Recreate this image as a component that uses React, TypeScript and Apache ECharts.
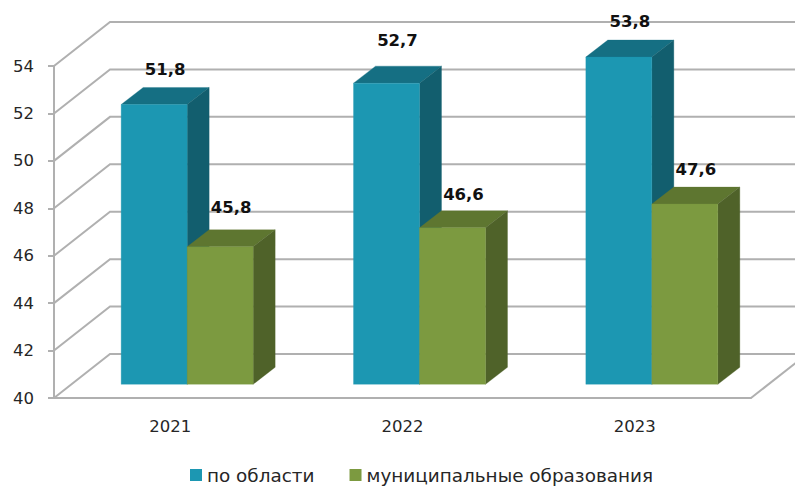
import React, { useEffect, useRef } from "react";
import * as echarts from "echarts";

const categories = ["2021", "2022", "2023"];
const regionName = "по области";
const municipalName = "муниципальные образования";
const regionValues = [51.8, 52.7, 53.8];
const municipalValues = [45.8, 46.6, 47.6];
const axisTicks = [40, 42, 44, 46, 48, 50, 52, 54];

const FONT = "'DejaVu Sans', sans-serif";
const GRAY = "#b0b0b0";
const TEXT = "#262626";
const WALL_DX = 56;
const WALL_DY = -44;
const BAR_W = 66;
const BAR_DX = 22;
const BAR_DY = -17;
const PLANE_DX = 17;
const PLANE_DY = -13.7;
const blue = { front: "#1c97b2", top: "#156f83", side: "#125e6e" };
const green = { front: "#7c9a40", top: "#5e7630", side: "#4f6229" };
const regionLabelLift = [35, 43, 36];
const municipalLabelLift = [39, 33, 35];

function barSeries(name: string, values: number[], colors: any, slot: number, lifts: number[]) {
  return {
    name,
    type: "custom",
    coordinateSystem: "cartesian2d",
    silent: true,
    z: 3 + slot,
    itemStyle: { color: colors.front },
    encode: { x: 0, y: 1 },
    data: values.map((v, i) => [i, v]),
    renderItem: (params: any, api: any) => {
      const i = api.value(0);
      const v = api.value(1);
      const top = api.coord([i, v]);
      const base = api.coord([i, 40]);
      const x0 = top[0] + PLANE_DX + (slot - 1) * BAR_W;
      const x1 = x0 + BAR_W;
      const yT = top[1] + PLANE_DY;
      const yB = base[1] + PLANE_DY;
      const poly = (points: number[][], fill: string) => ({
        type: "polygon",
        shape: { points },
        style: { fill, stroke: fill, lineWidth: 0.3 },
      });
      return {
        type: "group",
        children: [
          poly([[x0, yT], [x1, yT], [x1 + BAR_DX, yT + BAR_DY], [x0 + BAR_DX, yT + BAR_DY]], colors.top),
          poly([[x1, yT], [x1 + BAR_DX, yT + BAR_DY], [x1 + BAR_DX, yB + BAR_DY], [x1, yB]], colors.side),
          poly([[x0, yT], [x1, yT], [x1, yB], [x0, yB]], colors.front),
          {
            type: "text",
            style: {
              text: v.toFixed(1).replace(".", ","),
              x: x0 + BAR_W / 2 + 11,
              y: top[1] + PLANE_DY - lifts[i],
              align: "center",
              verticalAlign: "middle",
              fill: "#111111",
              fontFamily: FONT,
              fontWeight: "bold",
              fontSize: 16.5,
            },
          },
        ],
      };
    },
  };
}

export default function App() {
  const ref = useRef<HTMLDivElement>(null);
  useEffect(() => {
    const chart = echarts.init(ref.current!, null, { renderer: "svg" });
    chart.setOption({
      animation: false,
      backgroundColor: "#ffffff",
      grid: { left: 54, top: 66, width: 697, height: 332 },
      xAxis: {
        type: "category",
        data: categories,
        boundaryGap: true,
        axisLine: { lineStyle: { color: GRAY, width: 2 } },
        axisTick: { length: 10, lineStyle: { color: GRAY, width: 2 } },
        axisLabel: { color: TEXT, fontFamily: FONT, fontSize: 16.5, margin: 20 },
      },
      yAxis: {
        type: "value",
        min: 40,
        max: 54,
        interval: 2,
        splitLine: { show: false },
        axisLine: { show: true, lineStyle: { color: GRAY, width: 2 } },
        axisTick: { show: true, length: 6, lineStyle: { color: GRAY, width: 2 } },
        axisLabel: { color: TEXT, fontFamily: FONT, fontSize: 16.5, margin: 20 },
      },
      legend: {
        show: true,
        left: 185,
        top: 461,
        selectedMode: false,
        itemWidth: 12,
        itemHeight: 12,
        itemGap: 35,
        icon: "rect",
        data: [regionName, municipalName],
        textStyle: { color: TEXT, fontFamily: FONT, fontSize: 18.4, padding: [0, 0, 0, 0] },
      },
      series: [
        {
          type: "custom",
          coordinateSystem: "cartesian2d",
          silent: true,
          z: 1,
          encode: { x: 0, y: 1 },
          data: axisTicks.map((t) => [0, t]),
          renderItem: (params: any, api: any) => {
            const t = api.value(1);
            const y = api.coord([0, t])[1];
            const cs = params.coordSys;
            const style = { stroke: GRAY, lineWidth: 2, fill: "none" };
            const children: any[] = [
              {
                type: "polyline",
                shape: { points: [[cs.x, y], [cs.x + WALL_DX, y + WALL_DY], [800, y + WALL_DY]] },
                style,
              },
            ];
            if (t === axisTicks[0]) {
              children.push({
                type: "line",
                shape: { x1: cs.x + cs.width, y1: y, x2: cs.x + cs.width + WALL_DX, y2: y + WALL_DY },
                style,
              });
            }
            return { type: "group", children };
          },
        },
        barSeries(regionName, regionValues, blue, 0, regionLabelLift),
        barSeries(municipalName, municipalValues, green, 1, municipalLabelLift),
      ],
    });
    return () => chart.dispose();
  }, []);
  return <div ref={ref} style={{ position: "absolute", left: 0, top: 0, width: 795, height: 486 }} />;
}
